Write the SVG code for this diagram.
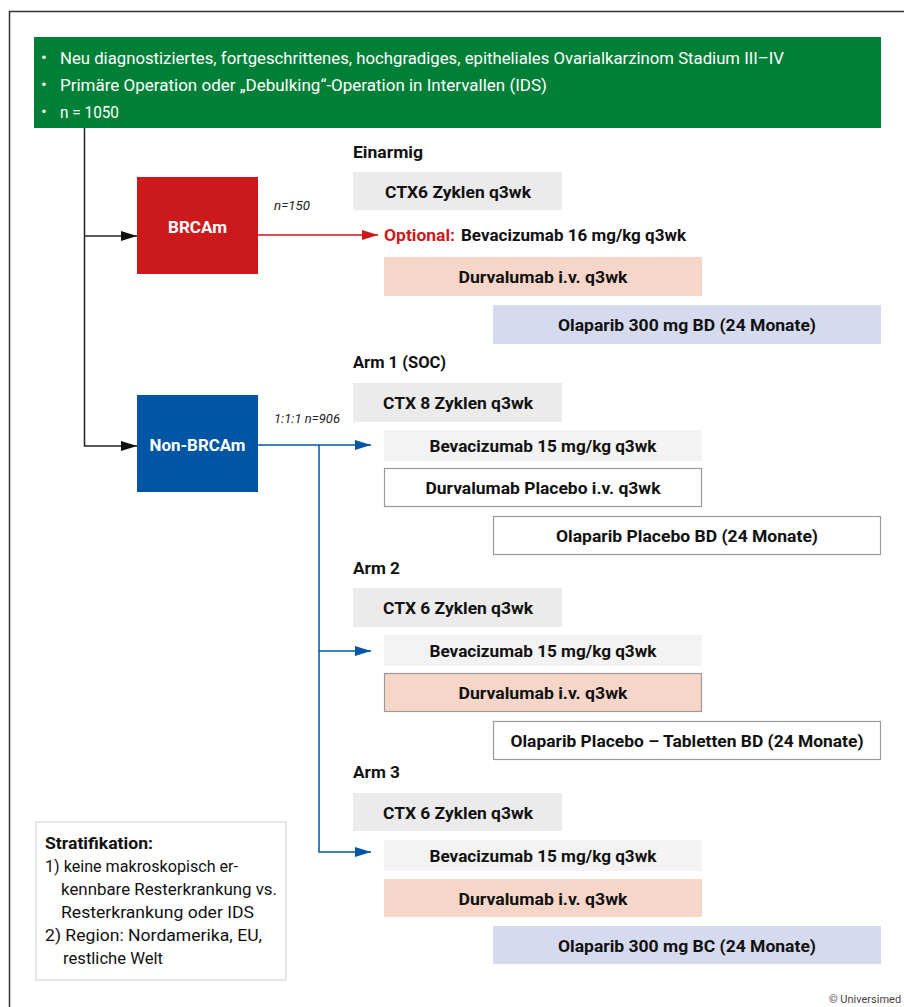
<svg xmlns="http://www.w3.org/2000/svg" width="904" height="1007" viewBox="0 0 904 1007">
<style>
text{font-family:Roboto,"Liberation Sans",Arial,sans-serif;font-size:17px;fill:#111}
.b{font-weight:bold}
.w{fill:#fff}
.i{font-style:italic;font-size:13.5px;fill:#222}
.c{text-anchor:middle}
.s{font-size:16.5px}
.gray{fill:#ebebeb}
.lgray{fill:#f3f3f3}
.peach{fill:#f6d6c9}
.lav{fill:#d5daee}
.wb{fill:#fff;stroke:#9a9a9a;stroke-width:1.2}
.pb{fill:#f6d6c9;stroke:#9a9a9a;stroke-width:1.2}
.ln{fill:none;stroke-width:1.5}
</style>
<defs>
<marker id="ak" markerUnits="userSpaceOnUse" markerWidth="16" markerHeight="10" refX="16" refY="5" orient="auto"><path d="M0,0 L16,5 L0,10 z" fill="#111"/></marker>
<marker id="ar" markerUnits="userSpaceOnUse" markerWidth="16" markerHeight="10" refX="16" refY="5" orient="auto"><path d="M0,0 L16,5 L0,10 z" fill="#cc1a1c"/></marker>
<marker id="ab" markerUnits="userSpaceOnUse" markerWidth="16" markerHeight="10" refX="16" refY="5" orient="auto"><path d="M0,0 L16,5 L0,10 z" fill="#0055a5"/></marker>
</defs>
<rect width="904" height="1007" fill="#fff"/>
<path d="M9.5,1007 V11.5 H904" fill="none" stroke="#333" stroke-width="1.5"/>

<g id="header">
<rect x="34" y="37" width="847" height="91" fill="#008037"/>
<text class="w" x="41" y="63">•</text>
<text class="w" x="60" y="64" textLength="724" lengthAdjust="spacingAndGlyphs">Neu diagnostiziertes, fortgeschrittenes, hochgradiges, epitheliales Ovarialkarzinom Stadium III–IV</text>
<text class="w" x="41" y="90">•</text>
<text class="w" x="60" y="91" textLength="487" lengthAdjust="spacingAndGlyphs">Primäre Operation oder „Debulking“-Operation in Intervallen (IDS)</text>
<text class="w" x="41" y="117">•</text>
<text class="w" x="60" y="118" textLength="59" lengthAdjust="spacingAndGlyphs">n = 1050</text>
</g>

<g id="connectors">
<path class="ln" d="M84.5,128 V446 H137" stroke="#222" marker-end="url(#ak)"/>
<path class="ln" d="M84.5,236 H137" stroke="#222" marker-end="url(#ak)"/>
<path class="ln" d="M258,235 H378" stroke="#cc1a1c" marker-end="url(#ar)"/>
<path class="ln" d="M258,445 H371" stroke="#0055a5" marker-end="url(#ab)"/>
<path class="ln" d="M319,445 V852 H371" stroke="#0055a5" marker-end="url(#ab)"/>
<path class="ln" d="M319,651 H371" stroke="#0055a5" marker-end="url(#ab)"/>
</g>

<g id="brcam">
<rect x="137" y="177" width="121" height="97" fill="#cc1a1c"/>
<text class="w b c" x="197.5" y="233" textLength="59" lengthAdjust="spacingAndGlyphs">BRCAm</text>
</g>
<text id="n150" class="i" x="274" y="210" textLength="36" lengthAdjust="spacingAndGlyphs">n=150</text>

<g id="nonbrcam">
<rect x="137" y="395" width="121" height="97" fill="#0055a5"/>
<text class="w b c" x="197.5" y="451" textLength="96" lengthAdjust="spacingAndGlyphs">Non-BRCAm</text>
</g>
<text id="n906" class="i" x="274" y="423" textLength="66" lengthAdjust="spacingAndGlyphs">1:1:1 n=906</text>

<g id="einarmig">
<text class="b" x="353" y="158" textLength="70" lengthAdjust="spacingAndGlyphs">Einarmig</text>
<g id="e-ctx"><rect class="gray" x="353" y="172" width="209" height="38"/><text class="b c" x="458" y="198" textLength="146" lengthAdjust="spacingAndGlyphs">CTX6 Zyklen q3wk</text></g>
<g id="e-bev"><text class="b" x="384" y="241" textLength="71" lengthAdjust="spacingAndGlyphs" style="fill:#cc1a1c">Optional:</text><text class="b" x="461" y="241" textLength="225" lengthAdjust="spacingAndGlyphs">Bevacizumab 16 mg/kg q3wk</text></g>
<g id="e-durv"><rect class="peach" x="384" y="257" width="318" height="39"/><text class="b c" x="543" y="283" textLength="169" lengthAdjust="spacingAndGlyphs">Durvalumab i.v. q3wk</text></g>
<g id="e-ola"><rect class="lav" x="493" y="305" width="388" height="39"/><text class="b c" x="687" y="331" textLength="258" lengthAdjust="spacingAndGlyphs">Olaparib 300 mg BD (24 Monate)</text></g>
</g>

<g id="arm1">
<text class="b" x="353" y="368" textLength="93" lengthAdjust="spacingAndGlyphs">Arm 1 (SOC)</text>
<g id="a1-ctx"><rect class="gray" x="353" y="383" width="209" height="39"/><text class="b c" x="458" y="409" textLength="150" lengthAdjust="spacingAndGlyphs">CTX 8 Zyklen q3wk</text></g>
<g id="a1-bev"><rect class="lgray" x="384" y="430" width="318" height="31"/><text class="b c" x="543" y="452" textLength="227" lengthAdjust="spacingAndGlyphs">Bevacizumab 15 mg/kg q3wk</text></g>
<g id="a1-durv"><rect class="wb" x="384.5" y="468.5" width="317" height="38"/><text class="b c" x="543" y="494" textLength="235" lengthAdjust="spacingAndGlyphs">Durvalumab Placebo i.v. q3wk</text></g>
<g id="a1-ola"><rect class="wb" x="493.5" y="516.5" width="387" height="38"/><text class="b c" x="687" y="542" textLength="262" lengthAdjust="spacingAndGlyphs">Olaparib Placebo BD (24 Monate)</text></g>
</g>

<g id="arm2">
<text class="b" x="353" y="574" textLength="47" lengthAdjust="spacingAndGlyphs">Arm 2</text>
<g id="a2-ctx"><rect class="gray" x="353" y="588" width="209" height="39"/><text class="b c" x="458" y="614" textLength="150" lengthAdjust="spacingAndGlyphs">CTX 6 Zyklen q3wk</text></g>
<g id="a2-bev"><rect class="lgray" x="384" y="635" width="318" height="31"/><text class="b c" x="543" y="657" textLength="227" lengthAdjust="spacingAndGlyphs">Bevacizumab 15 mg/kg q3wk</text></g>
<g id="a2-durv"><rect class="pb" x="384.5" y="673.5" width="317" height="38"/><text class="b c" x="543" y="699" textLength="169" lengthAdjust="spacingAndGlyphs">Durvalumab i.v. q3wk</text></g>
<g id="a2-ola"><rect class="wb" x="493.5" y="721.5" width="387" height="38"/><text class="b c" x="687" y="747" textLength="353" lengthAdjust="spacingAndGlyphs">Olaparib Placebo – Tabletten BD (24 Monate)</text></g>
</g>

<g id="arm3">
<text class="b" x="353" y="778" textLength="47" lengthAdjust="spacingAndGlyphs">Arm 3</text>
<g id="a3-ctx"><rect class="gray" x="353" y="793" width="209" height="38"/><text class="b c" x="458" y="819" textLength="150" lengthAdjust="spacingAndGlyphs">CTX 6 Zyklen q3wk</text></g>
<g id="a3-bev"><rect class="lgray" x="384" y="840" width="318" height="31"/><text class="b c" x="543" y="862" textLength="227" lengthAdjust="spacingAndGlyphs">Bevacizumab 15 mg/kg q3wk</text></g>
<g id="a3-durv"><rect class="peach" x="384" y="879" width="318" height="38"/><text class="b c" x="543" y="905" textLength="169" lengthAdjust="spacingAndGlyphs">Durvalumab i.v. q3wk</text></g>
<g id="a3-ola"><rect class="lav" x="493" y="926" width="388" height="38"/><text class="b c" x="687" y="952" textLength="258" lengthAdjust="spacingAndGlyphs">Olaparib 300 mg BC (24 Monate)</text></g>
</g>

<g id="stratifikation">
<rect x="36" y="822" width="250" height="158" fill="#fff" stroke="#e6e6e6" stroke-width="2"/>
<text class="b s" x="45" y="849" textLength="108" lengthAdjust="spacingAndGlyphs">Stratifikation:</text>
<text class="s" x="45" y="872" textLength="193" lengthAdjust="spacingAndGlyphs">1) keine makroskopisch er-</text>
<text class="s" x="61" y="895" textLength="216" lengthAdjust="spacingAndGlyphs">kennbare Resterkrankung vs.</text>
<text class="s" x="61" y="918" textLength="193" lengthAdjust="spacingAndGlyphs">Resterkrankung oder IDS</text>
<text class="s" x="45" y="941" textLength="217" lengthAdjust="spacingAndGlyphs">2) Region: Nordamerika, EU,</text>
<text class="s" x="63" y="964" textLength="100" lengthAdjust="spacingAndGlyphs">restliche Welt</text>
</g>

<text id="copyright" x="829" y="1003" style="font-size:11px;fill:#444">© Universimed</text>
</svg>
